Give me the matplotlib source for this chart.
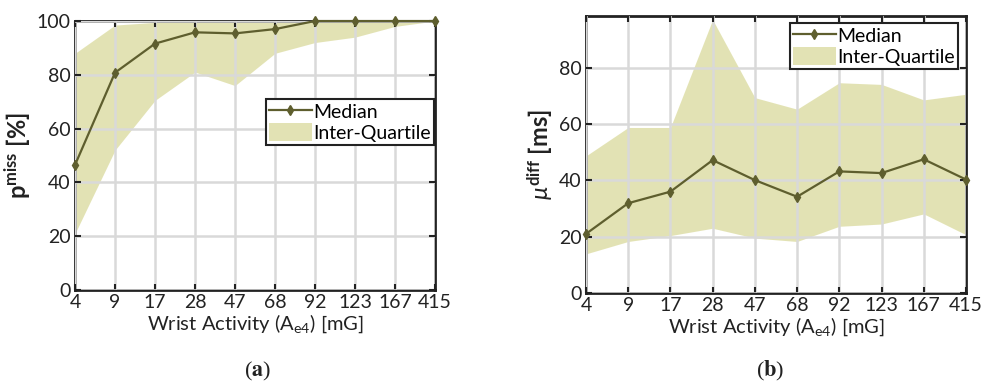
import matplotlib
matplotlib.use('Agg')
import matplotlib.pyplot as plt

plt.rcParams['font.family'] = ['Lato', 'DejaVu Sans']
plt.rcParams['mathtext.fontset'] = 'custom'
plt.rcParams['mathtext.rm'] = 'Lato'
plt.rcParams['mathtext.it'] = 'Lato:italic'
plt.rcParams['mathtext.bf'] = 'Lato:bold'

# === Data ====================================================================
activity = ['4', '9', '17', '28', '47', '68', '92', '123', '167', '415']

# (a) missing-beat percentage
miss_median = [46.5, 80.8, 91.6, 95.8, 95.4, 97.0, 100, 100, 100, 100]
miss_q1 = [21, 52, 70.5, 81, 76, 88, 92, 94, 98, 100]
miss_q3 = [88, 98.5, 99.5, 100, 100, 100, 100, 100, 100, 100]

# (b) mean interval difference
diff_median = [21.0, 31.9, 36.0, 47.2, 40.1, 34.2, 43.2, 42.6, 47.5, 40.3]
diff_q1 = [13.9, 18.3, 20.4, 23.0, 19.5, 18.3, 23.7, 24.5, 28.1, 20.7]
diff_q3 = [48.7, 58.8, 58.8, 97.1, 69.4, 65.3, 74.7, 74.1, 68.6, 70.6]

# =============================================================================
LINE = '#5e5e2e'
FILL = '#c7c76b'
INK = '#222222'

fig = plt.figure(figsize=(9.82, 3.90), dpi=100)
ax1 = fig.add_axes([0.0764, 0.2564, 0.3666, 0.6897])
ax2 = fig.add_axes([0.5967, 0.2487, 0.3870, 0.7110])

x = range(len(activity))


def draw(ax, med, q1, q3, ylim, yticks, legloc, anchor):
    f = ax.fill_between(x, q1, q3, color=FILL, alpha=0.5, lw=0, zorder=1)
    l, = ax.plot(x, med, color=LINE, lw=1.6, marker='d', ms=5.5, zorder=3,
                 clip_on=False)
    ax.set_xlim(0, len(activity) - 1)
    ax.set_ylim(ylim)
    ax.set_xticks(list(x))
    ax.set_xticklabels(activity)
    ax.set_yticks(yticks)
    ax.grid(True, color='#d9d9d9', lw=1.8, zorder=2)
    ax.set_axisbelow(False)
    ax.tick_params(direction='in', top=True, right=True, length=4, width=1.5,
                   labelsize=14, colors=INK, pad=3)
    for s in ax.spines.values():
        s.set_linewidth(2)
        s.set_color(INK)
    ax.set_xlabel(r'Wrist Activity (A$_{\rm e4}$) [mG]', fontsize=14.5, color=INK,
                  labelpad=1)
    leg = ax.legend([l, f], ['Median', 'Inter-Quartile'], loc=legloc,
                    bbox_to_anchor=anchor, fontsize=14, frameon=True, fancybox=False,
                    borderpad=0.15, handlelength=2.2, handleheight=1.1,
                    handletextpad=0.1, labelspacing=0.1, borderaxespad=0)
    leg.get_frame().set_edgecolor(INK)
    leg.get_frame().set_linewidth(1.5)
    leg.get_frame().set_alpha(1)
    return leg


draw(ax1, miss_median, miss_q1, miss_q3, (0, 100), range(0, 101, 20),
     'upper left', (0.53, 0.71))
ax1.set_ylabel(r'$\mathbf{p^{miss}}$ [%]', fontsize=17, fontweight='bold',
               color=INK, labelpad=3)

draw(ax2, diff_median, diff_q1, diff_q3, (0, 98.5), range(0, 81, 20),
     'upper right', (0.979, 0.974))
ax2.set_ylabel(r'$\mu^{\mathbf{diff}}$ [ms]', fontsize=17, fontweight='bold',
               color=INK, labelpad=3)

# sub-figure captions
fig.text(0.262, 0.035, r'($\mathbf{a}$)', fontsize=16, family='Liberation Serif',
         math_fontfamily='stix', ha='center', color=INK)
fig.text(0.784, 0.035, r'($\mathbf{b}$)', fontsize=16, family='Liberation Serif',
         math_fontfamily='stix', ha='center', color=INK)

plt.savefig('out.png', dpi=100)
